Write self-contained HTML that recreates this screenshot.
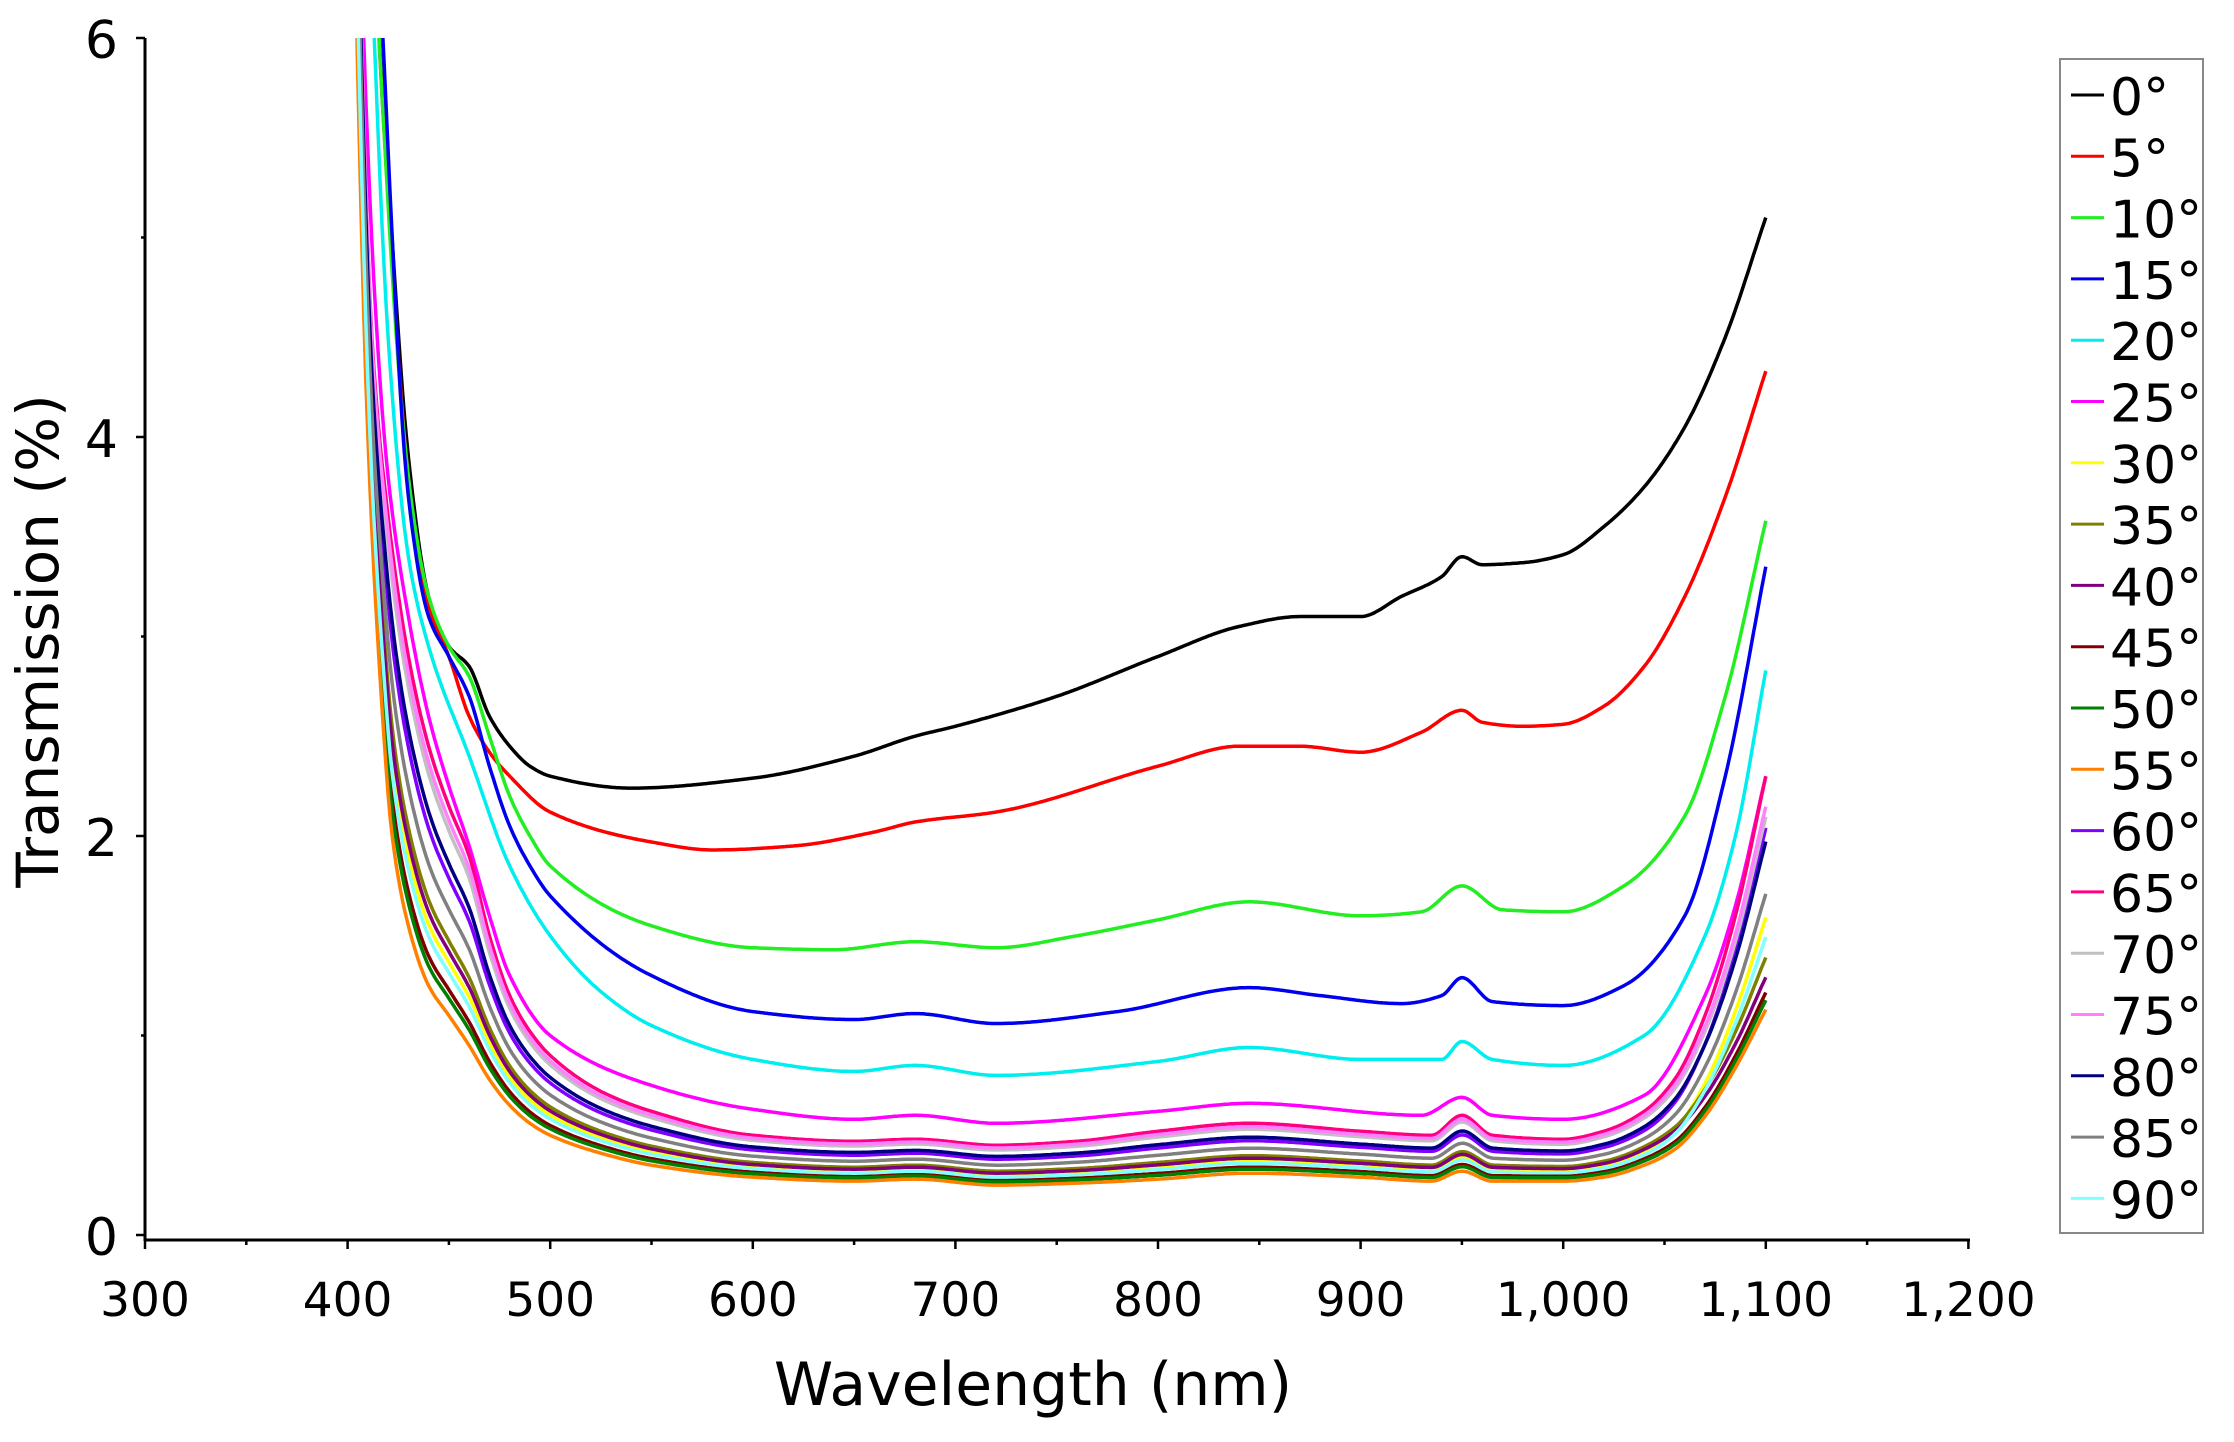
<!DOCTYPE html>
<html><head><meta charset="utf-8">
<style>
html,body{margin:0;padding:0;background:#fff;}
svg{display:block;}
text{font-family:"DejaVu Sans","Liberation Sans",sans-serif;fill:#000;}
</style></head>
<body>
<svg id="s" width="2234" height="1442" viewBox="0 0 2234 1442" xmlns="http://www.w3.org/2000/svg">
<defs><clipPath id="c"><rect x="146" y="38" width="1830" height="1200"/></clipPath></defs>
<g id="curves" clip-path="url(#c)" fill="none" stroke-width="3.5" stroke-linejoin="round"></g>
<g stroke="#000" stroke-width="3" fill="none">
<line x1="145" y1="38" x2="145" y2="1241"/>
<line x1="144" y1="1240" x2="1970" y2="1240"/>
</g>
<g id="ticks" stroke="#000" stroke-width="2.5"></g>
<g id="labels"></g>
<text x="1033" y="1405" font-size="60" text-anchor="middle">Wavelength (nm)</text>
<text transform="translate(58,641) rotate(-90)" font-size="58" text-anchor="middle">Transmission (%)</text>
<rect x="2060" y="59" width="143" height="1174" fill="#fff" stroke="#888" stroke-width="2"/>
<g id="legend"></g>
</svg>
<script>
var NS="http://www.w3.org/2000/svg";
function X(w){return 145+(w-300)*2.026;}
function Y(v){return 1235-199.5*v;}
function el(t,a,p,txt){var e=document.createElementNS(NS,t);for(var k in a)e.setAttribute(k,a[k]);if(txt!==undefined)e.textContent=txt;p.appendChild(e);return e;}
var tk=document.getElementById('ticks'),lb=document.getElementById('labels');
[0,1,2,3,4,5,6].forEach(function(v){var y=Y(v);var L=(v%2==0)?9:4;el('line',{x1:145-L,y1:y,x2:145,y2:y},tk);
 if(v%2==0)el('text',{x:118,y:y+20,'font-size':52,'text-anchor':'end'},lb,String(v));});
for(var w=300;w<=1200;w+=50){var x=X(w);var L=(w%100==0)?9:5;el('line',{x1:x,y1:1240,x2:x,y2:1240+L},tk);
 if(w%100==0){var s=w>=1000?(Math.floor(w/1000)+','+String(w%1000).padStart(3,'0')):String(w);el('text',{x:x,y:1316,'font-size':47,'text-anchor':'middle'},lb,s);}}
function mono(pts){var n=pts.length,xs=[],ys=[],d=[],m=[];for(var i=0;i<n;i++){xs.push(pts[i][0]);ys.push(pts[i][1]);}
 for(i=0;i<n-1;i++)d.push((ys[i+1]-ys[i])/(xs[i+1]-xs[i]));
 m[0]=d[0];m[n-1]=d[n-2];for(i=1;i<n-1;i++){if(d[i-1]*d[i]<=0)m[i]=0;else{var w1=2*(xs[i+1]-xs[i])+(xs[i]-xs[i-1]),w2=(xs[i+1]-xs[i])+2*(xs[i]-xs[i-1]);m[i]=(w1+w2)/(w1/d[i-1]+w2/d[i]);}}
 return function(x){if(x<=xs[0])return ys[0];if(x>=xs[n-1])return ys[n-1];var k=0;while(x>xs[k+1])k++;var h=xs[k+1]-xs[k],t=(x-xs[k])/h,t2=t*t,t3=t2*t;
 return (2*t3-3*t2+1)*ys[k]+(t3-2*t2+t)*h*m[k]+(-2*t3+3*t2)*ys[k+1]+(t3-t2)*h*m[k+1];};}
var B=[[400,9],[404,6.3],[410,4.0],[416,2.8],[422,2.0],[430,1.55],[440,1.25],[450,1.1],[460,0.95],[470,0.78],[480,0.65],[490,0.56],[500,0.5],[525,0.41],[550,0.35],[600,0.29],[650,0.27],[680,0.28],[720,0.25],[760,0.26],[800,0.28],[845,0.31],[900,0.29],[935,0.27],[950,0.32],[965,0.27],[1000,0.27],[1020,0.29],[1040,0.35],[1055,0.43],[1070,0.6],[1085,0.85],[1100,1.15]];
var M=[[400,9],[406,6.3],[412,4.5],[420,3.6],[430,2.9],[440,2.45],[450,2.15],[460,1.9],[470,1.5],[480,1.2],[490,1.02],[500,0.9],[525,0.72],[550,0.62],[600,0.5],[650,0.47],[680,0.48],[720,0.45],[760,0.47],[800,0.52],[845,0.56],[900,0.52],[935,0.5],[950,0.6],[965,0.5],[1000,0.48],[1020,0.52],[1040,0.62],[1055,0.78],[1070,1.1],[1085,1.6],[1100,2.3]];
var explicit={
0:[[400,10],[414,6.3],[420,5.3],[430,3.9],[440,3.2],[450,2.95],[460,2.85],[470,2.6],[480,2.45],[490,2.35],[500,2.3],[540,2.24],[600,2.29],[650,2.4],[680,2.5],[700,2.55],[750,2.7],[800,2.9],[840,3.05],[870,3.1],[890,3.1],[900,3.1],[920,3.2],[940,3.3],[950,3.4],[960,3.36],[980,3.37],[1000,3.41],[1020,3.55],[1040,3.75],[1060,4.05],[1080,4.5],[1100,5.1]],
5:[[400,10],[414,6.3],[420,5.2],[430,3.8],[440,3.15],[450,2.9],[460,2.6],[470,2.42],[480,2.3],[500,2.12],[550,1.97],[580,1.93],[620,1.95],[660,2.02],[680,2.07],[720,2.12],[800,2.35],[840,2.45],[870,2.45],[900,2.42],[930,2.52],[950,2.63],[960,2.57],[980,2.55],[1000,2.56],[1020,2.65],[1040,2.85],[1060,3.2],[1080,3.7],[1100,4.33]],
10:[[400,10],[414,6.3],[430,3.8],[440,3.2],[450,2.95],[460,2.8],[470,2.5],[480,2.2],[490,2.0],[500,1.85],[550,1.55],[600,1.44],[640,1.43],[680,1.47],[720,1.44],[760,1.5],[800,1.58],[845,1.67],[900,1.6],[930,1.62],[950,1.75],[970,1.63],[1000,1.62],[1030,1.75],[1060,2.1],[1080,2.7],[1100,3.58]],
15:[[400,10],[416,6.3],[430,3.7],[440,3.1],[450,2.9],[460,2.7],[470,2.35],[480,2.05],[490,1.85],[500,1.7],[550,1.3],[600,1.12],[650,1.08],[680,1.11],[720,1.06],[780,1.12],[845,1.24],[880,1.2],[920,1.16],[940,1.2],[950,1.29],[965,1.17],[1000,1.15],[1030,1.25],[1060,1.6],[1080,2.3],[1100,3.35]],
20:[[400,10],[412,6.3],[420,4.5],[430,3.4],[440,2.95],[460,2.4],[480,1.85],[500,1.5],[525,1.22],[550,1.05],[600,0.88],[650,0.82],[680,0.85],[720,0.8],[800,0.87],[845,0.94],[900,0.88],[940,0.88],[950,0.97],[965,0.88],[1000,0.85],[1040,1.0],[1070,1.5],[1085,2.0],[1100,2.83]],
25:[[400,10],[407,6.3],[414,4.6],[420,3.8],[430,3.1],[440,2.6],[450,2.25],[460,1.95],[470,1.6],[480,1.3],[500,1.0],[550,0.75],[600,0.63],[650,0.58],[680,0.6],[720,0.56],[800,0.62],[845,0.66],[930,0.6],[950,0.69],[965,0.6],[1000,0.58],[1040,0.7],[1070,1.2],[1085,1.65],[1100,2.3]]};
var fam={30:[0.25,1.6],35:[0.35,1.4],40:[0.3,1.3],45:[0.12,1.22],50:[0.08,1.18],55:[0,1.13],60:[0.65,2.05],65:[1,2.3],70:[0.88,2.1],75:[0.93,2.15],80:[0.72,1.98],85:[0.5,1.72],90:[0.2,1.5]};
var cols={0:'#000000',5:'#ff0000',10:'#22ee22',15:'#0000ee',20:'#00eeee',25:'#ff00ff',30:'#ffff00',35:'#808000',40:'#800080',45:'#800000',50:'#008000',55:'#ff8000',60:'#8000ff',65:'#ff0080',70:'#c0c0c0',75:'#ff80ff',80:'#000080',85:'#808080',90:'#80ffff'};
var fB=mono(B),fM=mono(M);
var cg=document.getElementById('curves'),lg=document.getElementById('legend');
for(var a=0;a<=90;a+=5){
 var d='',fe=explicit[a]?mono(explicit[a]):null;
 for(var w=398;w<=1100;w+=1){
  var v;
  if(fe)v=fe(w);
  else{var f=fam[a][0],E=fam[a][1];var b=fB(w-f*2),m=fM(w);v=b+f*(m-b);
   var c1100=1.15+f*(2.3-1.15);if(w>1040){var t=(w-1040)/60;v+=t*t*(E-c1100);}}
  d+=(w==398?'M':'L')+X(w).toFixed(1)+' '+Y(Math.min(v,8)).toFixed(1);
 }
 el('path',{d:d,stroke:cols[a]},cg);
 var ly=95+a/5*61.3;
 el('line',{x1:2071,y1:ly,x2:2104,y2:ly,stroke:cols[a],'stroke-width':3},lg);
 el('text',{x:2110,y:ly+20,'font-size':52},lg,a+'°');
}
</script>
</body></html>
